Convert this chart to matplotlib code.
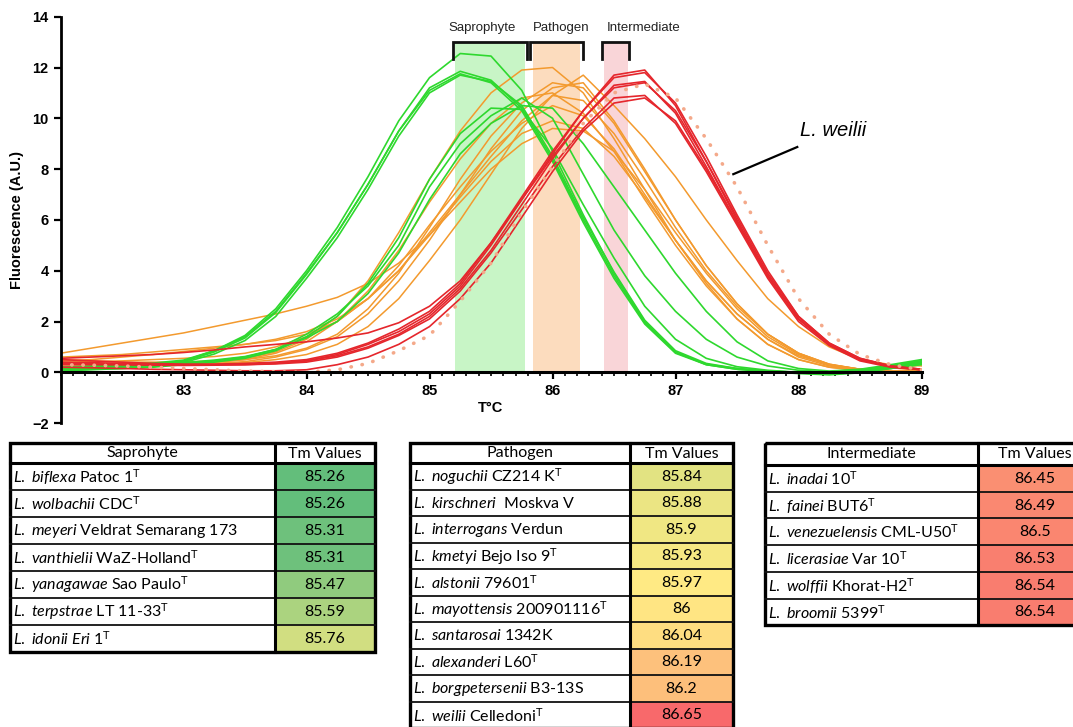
import numpy as np
import matplotlib
matplotlib.use("Agg")
import matplotlib.pyplot as plt
from matplotlib.patches import Rectangle
from matplotlib.colors import LinearSegmentedColormap, TwoSlopeNorm
from matplotlib.ticker import MultipleLocator

plt.rcParams['mathtext.fontset'] = 'custom'
plt.rcParams['mathtext.rm'] = 'Lato'
plt.rcParams['mathtext.it'] = 'Lato:italic'
plt.rcParams['mathtext.bf'] = 'Lato:bold'
plt.rcParams['font.family'] = ['Lato', 'DejaVu Sans']

# ---------------- data ----------------
temperature = [82.0, 82.25, 82.5, 82.75, 83.0, 83.25, 83.5, 83.75, 84.0, 84.25,
               84.5, 84.75, 85.0, 85.25, 85.5, 85.75, 86.0, 86.25, 86.5, 86.75,
               87.0, 87.25, 87.5, 87.75, 88.0, 88.25, 88.5, 88.75, 89.0]

saprophyte_curves = [
    [0.15, 0.18, 0.22, 0.3, 0.45, 0.85, 1.45, 2.5, 4.0, 5.7, 7.7, 9.9, 11.6, 12.55, 12.45, 11.1, 8.7, 6.2, 3.9, 2.0, 0.8, 0.3, 0.12, 0.05, 0.0, -0.05, 0.05, 0.2, 0.35],
    [0.1, 0.15, 0.2, 0.28, 0.42, 0.8, 1.35, 2.35, 3.85, 5.5, 7.4, 9.5, 11.2, 11.85, 11.5, 10.4, 8.4, 6.0, 3.8, 1.95, 0.78, 0.32, 0.15, 0.05, -0.02, -0.08, 0.0, 0.15, 0.3],
    [0.2, 0.25, 0.3, 0.36, 0.48, 0.85, 1.4, 2.4, 3.9, 5.5, 7.4, 9.5, 11.1, 11.75, 11.4, 10.3, 8.3, 5.9, 3.7, 1.9, 0.75, 0.3, 0.12, 0.03, -0.05, -0.1, -0.02, 0.15, 0.35],
    [0.05, 0.1, 0.15, 0.22, 0.38, 0.72, 1.25, 2.2, 3.7, 5.3, 7.2, 9.3, 11.0, 11.7, 11.45, 10.5, 8.5, 6.1, 3.95, 2.05, 0.85, 0.35, 0.15, 0.05, 0.0, -0.05, 0.05, 0.25, 0.45],
    [0.1, 0.12, 0.15, 0.2, 0.3, 0.4, 0.55, 0.85, 1.4, 2.2, 3.5, 5.3, 7.6, 9.4, 10.4, 10.35, 8.8, 6.6, 4.5, 2.6, 1.3, 0.55, 0.22, 0.08, 0.0, -0.05, 0.05, 0.2, 0.4],
    [0.15, 0.18, 0.22, 0.28, 0.35, 0.45, 0.6, 0.9, 1.5, 2.3, 3.4, 5.0, 7.3, 9.0, 10.1, 10.8, 10.0, 7.8, 5.6, 3.8, 2.4, 1.3, 0.6, 0.25, 0.08, 0.02, 0.1, 0.25, 0.45],
    [0.2, 0.22, 0.25, 0.3, 0.38, 0.48, 0.62, 0.9, 1.35, 2.0, 3.1, 4.7, 6.8, 8.6, 9.8, 10.5, 10.4, 9.0, 7.3, 5.6, 3.9, 2.4, 1.2, 0.45, 0.15, 0.05, 0.12, 0.3, 0.5],
]

pathogen_curves = [
    [0.5, 0.45, 0.4, 0.4, 0.4, 0.45, 0.55, 0.8, 1.3, 2.2, 3.6, 5.5, 7.6, 9.5, 11.0, 11.9, 12.0, 11.0, 9.2, 7.2, 5.2, 3.5, 2.1, 1.1, 0.5, 0.2, 0.1, 0.15, 0.3],
    [0.3, 0.3, 0.3, 0.3, 0.32, 0.38, 0.5, 0.75, 1.2, 2.0, 3.2, 4.8, 6.7, 8.4, 9.8, 10.8, 11.0, 10.2, 8.7, 6.8, 5.0, 3.4, 2.1, 1.1, 0.5, 0.2, 0.05, 0.0, 0.05],
    [0.6, 0.65, 0.7, 0.8, 0.9, 1.0, 1.1, 1.25, 1.5, 2.0, 2.9, 4.2, 5.8, 7.3, 8.7, 9.8, 10.5, 10.1, 8.8, 7.0, 5.2, 3.6, 2.3, 1.3, 0.65, 0.3, 0.12, 0.05, 0.05],
    [0.4, 0.42, 0.45, 0.5, 0.55, 0.62, 0.75, 1.0, 1.4, 2.0, 2.9, 4.0, 5.4, 6.9, 8.3, 9.4, 9.9, 9.6, 8.5, 6.9, 5.2, 3.6, 2.3, 1.3, 0.6, 0.25, 0.1, 0.05, 0.1],
    [0.35, 0.35, 0.35, 0.36, 0.38, 0.42, 0.5, 0.65, 0.95, 1.5, 2.5, 3.9, 5.7, 7.6, 9.3, 10.6, 11.4, 11.2, 9.8, 7.9, 6.0, 4.2, 2.7, 1.5, 0.75, 0.32, 0.12, 0.05, 0.1],
    [0.75, 0.95, 1.15, 1.35, 1.55, 1.8, 2.05, 2.3, 2.6, 2.95, 3.5, 4.3, 5.4, 6.7, 8.0, 9.0, 9.6, 9.5, 8.7, 7.2, 5.5, 3.9, 2.5, 1.4, 0.7, 0.3, 0.12, 0.2, 0.4],
    [0.45, 0.5, 0.6, 0.7, 0.82, 0.95, 1.1, 1.3, 1.6, 2.1, 2.9, 4.0, 5.5, 7.0, 8.5, 9.9, 10.9, 10.7, 9.4, 7.6, 5.7, 4.0, 2.6, 1.5, 0.75, 0.32, 0.12, 0.05, 0.05],
    [0.3, 0.3, 0.3, 0.3, 0.3, 0.32, 0.38, 0.5, 0.7, 1.1, 1.8, 2.9, 4.4, 6.0, 7.8, 9.6, 10.9, 11.7, 10.5, 9.2, 7.7, 6.0, 4.4, 2.9, 1.8, 1.0, 0.5, 0.3, 0.25],
    [0.2, 0.22, 0.25, 0.28, 0.3, 0.35, 0.42, 0.6, 0.9, 1.4, 2.3, 3.6, 5.2, 7.0, 8.8, 10.3, 11.2, 11.4, 9.9, 8.0, 6.0, 4.2, 2.7, 1.5, 0.75, 0.3, 0.1, 0.05, 0.1],
]

intermediate_curves = [
    [0.35, 0.33, 0.3, 0.28, 0.27, 0.28, 0.3, 0.35, 0.45, 0.7, 1.1, 1.6, 2.3, 3.4, 5.0, 6.8, 8.6, 10.3, 11.7, 11.9, 10.5, 8.3, 6.0, 3.8, 2.1, 1.1, 0.5, 0.22, 0.1],
    [0.5, 0.45, 0.4, 0.35, 0.32, 0.32, 0.35, 0.4, 0.5, 0.75, 1.15, 1.7, 2.4, 3.5, 5.1, 6.9, 8.7, 10.3, 11.6, 11.8, 10.6, 8.5, 6.2, 4.0, 2.2, 1.15, 0.55, 0.25, 0.12],
    [0.55, 0.6, 0.65, 0.7, 0.78, 0.88, 1.0, 1.1, 1.2, 1.35, 1.55, 1.95, 2.6, 3.6, 5.1, 6.8, 8.5, 10.0, 11.3, 11.45, 10.2, 8.1, 5.9, 3.8, 2.1, 1.1, 0.5, 0.22, 0.12],
    [0.3, 0.3, 0.3, 0.3, 0.3, 0.3, 0.32, 0.36, 0.45, 0.65, 1.0, 1.5, 2.2, 3.3, 4.8, 6.6, 8.4, 10.0, 11.2, 11.4, 10.3, 8.3, 6.1, 3.9, 2.2, 1.15, 0.55, 0.25, 0.12],
    [0.4, 0.38, 0.35, 0.32, 0.3, 0.3, 0.3, 0.33, 0.4, 0.6, 0.95, 1.45, 2.1, 3.2, 4.7, 6.4, 8.1, 9.6, 10.8, 10.9, 9.8, 7.9, 5.8, 3.7, 2.0, 1.05, 0.45, 0.2, 0.1],
    [0.2, 0.18, 0.15, 0.12, 0.1, 0.08, 0.06, 0.06, 0.1, 0.3, 0.6, 1.1, 1.8, 2.9, 4.3, 6.1, 7.9, 9.5, 10.6, 10.8, 9.9, 8.0, 5.9, 3.8, 2.1, 1.1, 0.5, 0.22, 0.1],
]

weilii_curve = [0.3, 0.28, 0.25, 0.2, 0.15, 0.1, 0.05, 0.02, 0.0, 0.1, 0.35, 0.85, 1.45, 2.8, 4.3, 6.3, 8.1, 9.8, 11.0, 11.35, 10.8, 9.2, 7.3, 5.0, 2.9, 1.5, 0.7, 0.3, 0.1]

group_names = ["Saprophyte", "Pathogen", "Intermediate"]
band_ranges = [(85.21, 85.78), (85.84, 86.22), (86.42, 86.61)]
bracket_ranges = [(85.19, 85.79), (85.82, 86.25), (86.40, 86.62)]

# tables
sap_species = ["L. biflexa", "L. wolbachii", "L. meyeri", "L. vanthielii", "L. yanagawae", "L. terpstrae", "L. idonii"]
sap_strain = ["Patoc 1", "CDC", "Veldrat Semarang 173", "WaZ-Holland", "Sao Paulo", "LT 11-33", "Eri 1"]
sap_type = [True, True, False, True, True, True, True]
sap_tm = ["85.26", "85.26", "85.31", "85.31", "85.47", "85.59", "85.76"]

pat_species = ["L. noguchii", "L. kirschneri", "L. interrogans", "L. kmetyi", "L. alstonii", "L. mayottensis", "L. santarosai", "L. alexanderi", "L. borgpetersenii", "L. weilii"]
pat_strain = ["CZ214 K", " Moskva V", "Verdun", "Bejo Iso 9", "79601", "200901116", "1342K", "L60", "B3-13S", "Celledoni"]
pat_type = [True, False, False, True, True, True, False, True, False, True]
pat_tm = ["85.84", "85.88", "85.9", "85.93", "85.97", "86", "86.04", "86.19", "86.2", "86.65"]

int_species = ["L. inadai", "L. fainei", "L. venezuelensis", "L. licerasiae", "L. wolffii", "L. broomii"]
int_strain = ["10", "BUT6", "CML-U50", "Var 10", "Khorat-H2", "5399"]
int_type = [True, True, True, True, True, True]
int_tm = ["86.45", "86.49", "86.5", "86.53", "86.54", "86.54"]

# ---------------- figure ----------------
W, H = 1073, 727
fig = plt.figure(figsize=(W / 100, H / 100), dpi=100)
ax = fig.add_axes([60.5 / W, 1 - 423.1 / H, 861 / W, 406.4 / H])
ax.set_xlim(82, 89)
ax.set_ylim(-2, 14)

CF = 'Liberation Sans'
green = '#2ed82e'
orange = '#f39a2e'
red = '#e5262c'
band_colors = ['#c8f5c6', '#fcdcbe', '#f9d5d8']

for (a, b), c in zip(band_ranges, band_colors):
    ax.add_patch(Rectangle((a, 0), b - a, 12.95, facecolor=c, edgecolor='none', zorder=0.5))

for (a, b), name in zip(bracket_ranges, group_names):
    ax.plot([a, a, b, b], [12.35, 13.0, 13.0, 12.35], color='#111111', lw=2.0,
            solid_joinstyle='miter', clip_on=False, zorder=3)
label_x = [85.43, 86.07, 86.74]
for x, name in zip(label_x, group_names):
    ax.text(x, 13.55, name, ha='center', va='center', fontsize=9.5, family=CF, color='#222222')

for y in pathogen_curves:
    ax.plot(temperature, y, color=orange, lw=1.1, zorder=2)
for y in saprophyte_curves:
    ax.plot(temperature, y, color=green, lw=1.2, zorder=2.1)
for y in intermediate_curves:
    ax.plot(temperature, y, color=red, lw=1.2, zorder=2.2)
ax.plot(temperature, weilii_curve, color='#f4a98a', lw=2.6, linestyle=(0, (0.1, 3.0)),
        dash_capstyle='round', zorder=2.3)

ax.plot([87.47, 87.99], [7.8, 8.87], color='black', lw=1.6, zorder=3)
ax.text(88.28, 9.5, "L. weilii", fontsize=14.5, style='italic', family=CF,
        ha='center', va='center')

for s in ['top', 'right']:
    ax.spines[s].set_visible(False)
ax.spines['bottom'].set_position(('data', 0))
ax.spines['bottom'].set_linewidth(2.2)
ax.spines['left'].set_linewidth(2.0)
ax.set_xticks([83, 84, 85, 86, 87, 88, 89])
ax.xaxis.set_minor_locator(MultipleLocator(0.1))
ax.set_yticks(list(range(-2, 15, 2)))
ax.tick_params(axis='both', which='major', direction='out', length=5, width=1.6, labelsize=10.5)
ax.tick_params(axis='x', which='minor', direction='out', length=3, width=1.2)
for lab in ax.get_xticklabels() + ax.get_yticklabels():
    lab.set_fontweight('bold')
    lab.set_family(CF)
ax.set_xlabel("T°C", fontsize=10.5, fontweight='bold', family=CF, labelpad=2)
ax.set_ylabel("Fluorescence (A.U.)", fontsize=10.5, fontweight='bold', family=CF, labelpad=6)

# ---------------- tables ----------------
tax = fig.add_axes([0, 0, 1, 1])
tax.set_xlim(0, W)
tax.set_ylim(H, 0)
tax.axis('off')

all_tm = [float(v) for v in sap_tm + pat_tm + int_tm]
cmap = LinearSegmentedColormap.from_list('excel3', ['#63BE7B', '#FFEB84', '#F8696B'])
norm = TwoSlopeNorm(vmin=min(all_tm), vcenter=float(np.median(all_tm)), vmax=max(all_tm))


def make_label(species, strain, is_type, strain_italic=False):
    lab = r"$\mathit{" + species.replace(" ", r"\ ") + "}$ "
    if strain_italic:
        lab += r"$\mathit{" + strain.replace(" ", r"\ ") + "}$"
    else:
        lab += strain
    if is_type:
        lab += r"$^{\mathrm{T}}$"
    return lab


def draw_table(x0, xs, x1, ytop, yhead, row_h, title, species, strains, types, tms, italic_last=False):
    n = len(species)
    ybot = yhead + n * row_h
    fs = 11.5
    for i in range(n):
        y = yhead + i * row_h
        tax.add_patch(Rectangle((xs, y), x1 - xs, row_h,
                                facecolor=cmap(norm(float(tms[i]))), edgecolor='none'))
        lab = make_label(species[i], strains[i], types[i], italic_last and i == n - 1)
        tax.text(x0 + 3, y + row_h / 2 + 0.5, lab, ha='left', va='center', fontsize=fs)
        tax.text((xs + x1) / 2, y + row_h / 2 + 0.5, tms[i], ha='center', va='center', fontsize=fs)
    tax.text((x0 + xs) / 2, (ytop + yhead) / 2 + 0.5, title, ha='center', va='center', fontsize=fs)
    tax.text((xs + x1) / 2, (ytop + yhead) / 2 + 0.5, "Tm Values", ha='center', va='center', fontsize=fs)
    for i in range(1, n):
        yy = yhead + i * row_h
        tax.plot([x0, x1], [yy, yy], color='#111111', lw=1.3)
    tax.plot([x0, x1], [yhead, yhead], color='black', lw=2.2)
    tax.plot([xs, xs], [ytop, ybot], color='black', lw=2.2)
    tax.add_patch(Rectangle((x0, ytop), x1 - x0, ybot - ytop, fill=False,
                            edgecolor='black', lw=2.4))


draw_table(10, 275, 375, 443, 463, 27.0, "Saprohyte", sap_species, sap_strain, sap_type, sap_tm, italic_last=True)
draw_table(410, 630, 733, 443, 463, 26.5, "Pathogen", pat_species, pat_strain, pat_type, pat_tm)
draw_table(765, 978, 1092, 443, 465, 26.7, "Intermediate", int_species, int_strain, int_type, int_tm)

fig.savefig("out.png", dpi=100)
